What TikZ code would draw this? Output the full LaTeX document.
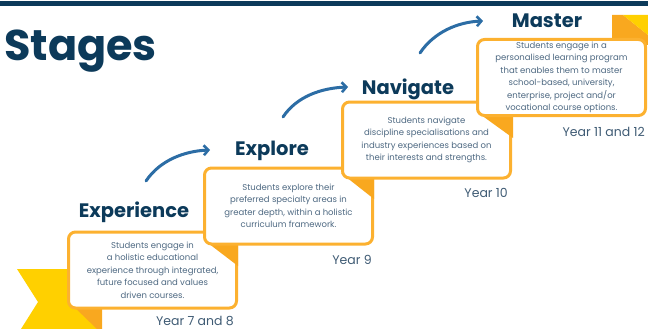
\documentclass[tikz,border=0pt]{standalone}
\usepackage{fontspec}
\setmainfont{Poppins}
\usepackage{tikz}
\usetikzlibrary{arrows.meta}

\definecolor{stagenavy}{HTML}{0C3A5A}
\definecolor{boxorange}{HTML}{FCB130}
\definecolor{foldorange}{HTML}{F9A81F}
\definecolor{ribbonyellow}{HTML}{FFD000}
\definecolor{bodyblue}{HTML}{4E6982}
\definecolor{yeargrey}{HTML}{3F5B74}
\definecolor{arrowblue}{HTML}{2C6DA5}

\tikzset{
  stagebox/.style={draw=boxorange, line width=3pt, rounded corners=7pt, fill=white,
    minimum width=168pt, minimum height=76pt, inner sep=0pt, align=center,
    text=bodyblue, font=\fontsize{8.5}{12.5}\selectfont},
  stagehead/.style={anchor=base, text=stagenavy, font=\bfseries\fontsize{19.5}{20}\selectfont},
  yearlabel/.style={anchor=base east, inner sep=1pt, text=yeargrey, font=\fontsize{12.5}{13}\selectfont},
  fold/.style={fill=foldorange},
  climb/.style={draw=arrowblue, line width=3pt, line cap=round,
    -{Straight Barb[length=4.5pt,width=10pt,line width=2.6pt]}}
}

\begin{document}
\begin{tikzpicture}[x=1pt,y=-1pt]
  \useasboundingbox (0,0) rectangle (648,329);
  \fill[stagenavy] (0,1.5) rectangle (648,6.5);
  \draw (4,61) node[anchor=base west, text=stagenavy, inner sep=0pt, font=\bfseries\fontsize{43}{43}\selectfont] (title) {Stages};

  % ribbon tail and steps
  \fill[ribbonyellow] (17,269) -- (80,269) -- (97,329) -- (21,329) -- (38,302) -- cycle;
  \fill[fold] (67,300) -- (102,300) -- (102,329) -- (97,329) -- cycle;
  \draw (152.5,270) node[stagebox] (experience) {Students engage in\\ a holistic educational\\ experience through integrated,\\ future focused and values\\ driven courses.};
      \fill[fold] (204,240) -- (238,240) -- (238,266) -- cycle;
  \draw (288.5,206) node[stagebox] (explore) {Students explore their\\ preferred specialty areas in\\ greater depth, within a holistic\\ curriculum framework.};
      \fill[fold] (341,173) -- (374,173) -- (374,199) -- cycle;
  \draw (426.5,140) node[stagebox] (navigate) {Students navigate\\ discipline specialisations and\\ industry experiences based on\\ their interests and strengths.};
      \fill[fold] (477,112) -- (513,112) -- (513,138) -- cycle;
      \fill[fold] (612,15) -- (623,15) -- (648,35) -- (648,45) -- (612,45) -- cycle;
      \fill[ribbonyellow] (623,15) -- (648,15) -- (648,35) -- cycle;
  \draw (561.5,77.5) node[stagebox] (master) {Students engage in a\\ personalised learning program\\ that enables them to master\\ school-based, university,\\ enterprise, project and/or\\ vocational course options.};

  \draw (134,217) node[stagehead] (experiencehead) {Experience};
  \draw (272,155) node[stagehead] (explorehead) {Explore};
  \draw (408,95) node[stagehead] (navigatehead) {Navigate};
  \draw (547,28) node[stagehead] (masterhead) {Master};

  \draw (235,325) node[yearlabel] (year78) {Year 7 and 8};
  \draw (373,264) node[yearlabel] (year9) {Year 9};
  \draw (509,197) node[yearlabel] (year10) {Year 10};
  \draw (646,136) node[yearlabel] (year1112) {Year 11 and 12};

  \coordinate (climb1a) at (146,181);
  \coordinate (climb1b) at (210,150);
  \coordinate (climb2a) at (283,117);
  \coordinate (climb2b) at (348,87);
  \coordinate (climb3a) at (420,53);
  \coordinate (climb3b) at (483,21);
    \draw[climb] (climb1a) .. controls (160,160) and (185,151) .. (climb1b);
    \draw[climb] (climb2a) .. controls (297,96) and (322,88) .. (climb2b);
    \draw[climb] (climb3a) .. controls (434,32) and (458,22) .. (climb3b);
\end{tikzpicture}
\end{document}
